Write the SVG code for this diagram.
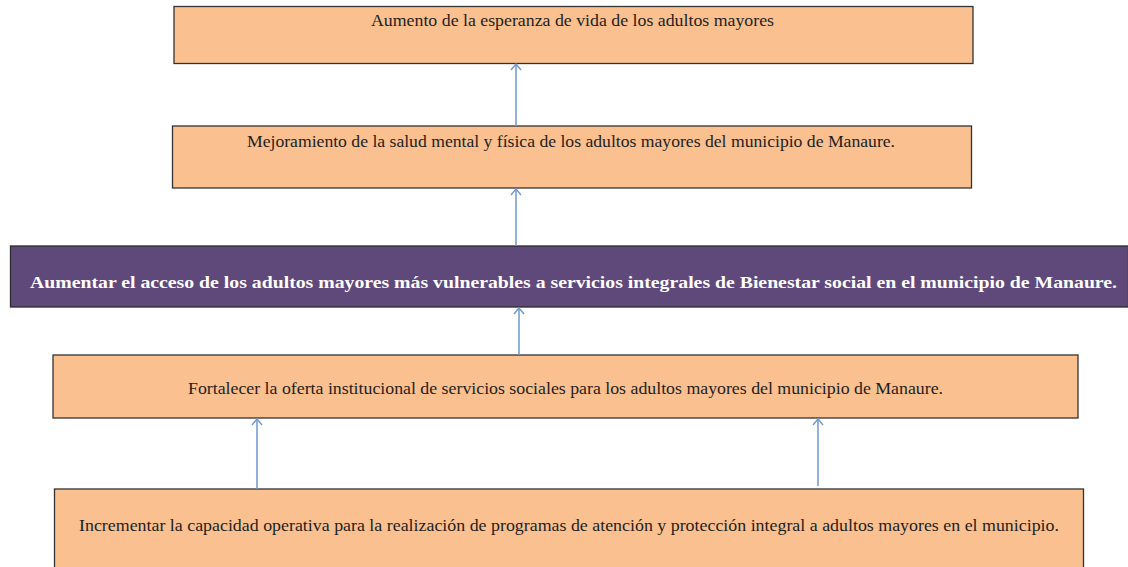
<svg xmlns="http://www.w3.org/2000/svg" width="1128" height="567" viewBox="0 0 1128 567">
<style>
.box{fill:#FAC090;stroke:#333;stroke-width:1.3}
.main{fill:#5F497A;stroke:#2b2b2b;stroke-width:1.3}
.t{font-family:"Liberation Serif","DejaVu Serif",serif;font-size:16px;fill:#1e1e1e}
.tb{font-family:"Liberation Serif","DejaVu Serif",serif;font-size:17px;font-weight:bold;fill:#ffffff}
.c{stroke:#6F98CF;stroke-width:1.5;fill:none;marker-end:url(#ah)}
</style>
<defs>
<marker id="ah" viewBox="0 0 12 12" refX="11" refY="6" markerWidth="12" markerHeight="12" markerUnits="userSpaceOnUse" orient="auto">
<path d="M5,1 L11,6 L5,11" fill="none" stroke="#6F98CF" stroke-width="1.4"/>
</marker>
</defs>
<rect width="1128" height="567" fill="#ffffff"/>
<g id="n1">
<rect class="box" x="174" y="6.5" width="799" height="57"/>
<text class="t" x="371" y="26" textLength="403" lengthAdjust="spacingAndGlyphs">Aumento de la esperanza de vida de los adultos mayores</text>
</g>
<g id="n2">
<rect class="box" x="172.5" y="126" width="799" height="62"/>
<text class="t" x="247" y="147" textLength="648" lengthAdjust="spacingAndGlyphs">Mejoramiento de la salud mental y física de los adultos mayores del municipio de Manaure.</text>
</g>
<g id="n3">
<rect class="main" x="10.5" y="246" width="1118" height="61"/>
<text class="tb" x="30" y="288" textLength="1087" lengthAdjust="spacingAndGlyphs">Aumentar el acceso de los adultos mayores más vulnerables a servicios integrales de Bienestar social en el municipio de Manaure.</text>
</g>
<g id="n4">
<rect class="box" x="53" y="355" width="1025" height="63"/>
<text class="t" x="188" y="394" textLength="755" lengthAdjust="spacingAndGlyphs">Fortalecer la oferta institucional de servicios sociales para los adultos mayores del municipio de Manaure.</text>
</g>
<g id="n5">
<rect class="box" x="54.5" y="489" width="1029" height="90"/>
<text class="t" x="79" y="531" textLength="980" lengthAdjust="spacingAndGlyphs">Incrementar la capacidad operativa para la realización de programas de atención y protección integral a adultos mayores en el municipio.</text>
</g>
<g id="connectors">
<line class="c" x1="516" y1="126" x2="516" y2="64"/>
<line class="c" x1="516" y1="246" x2="516" y2="189"/>
<line class="c" x1="519" y1="355" x2="519" y2="308"/>
<line class="c" x1="257" y1="489" x2="257" y2="419"/>
<line class="c" x1="818" y1="486" x2="818" y2="419"/>
</g>
</svg>
